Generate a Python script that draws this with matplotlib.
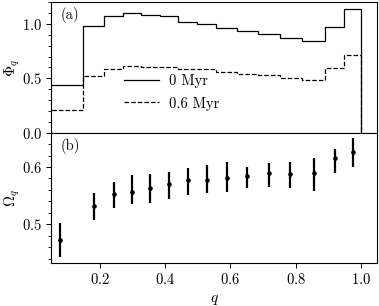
import numpy as np
import matplotlib
matplotlib.use("Agg")
import matplotlib.pyplot as plt
from matplotlib.ticker import MultipleLocator

plt.rcParams['font.family'] = 'serif'
plt.rcParams['font.serif'] = ['cmr10']
plt.rcParams['mathtext.fontset'] = 'cm'
plt.rcParams['axes.formatter.use_mathtext'] = True
plt.rcParams['font.size'] = 10.5

# panel (a): binned distribution
edges = [0.0, 0.148, 0.212, 0.270, 0.325, 0.383, 0.439, 0.498, 0.557,
         0.619, 0.684, 0.751, 0.820, 0.889, 0.949, 1.0]
phi_0 = [0.442, 0.984, 1.073, 1.097, 1.079, 1.070, 1.015, 1.000, 0.960,
         0.932, 0.905, 0.868, 0.841, 0.969, 1.137]
phi_06 = [0.207, 0.521, 0.582, 0.612, 0.603, 0.603, 0.589, 0.582, 0.561,
          0.540, 0.526, 0.506, 0.488, 0.596, 0.713]
labels = ['0 Myr', '0.6 Myr']

# panel (b): ratio with error bars
q_pts = [0.077, 0.180, 0.242, 0.298, 0.354, 0.410, 0.469, 0.527, 0.588,
         0.651, 0.718, 0.784, 0.855, 0.922, 0.977]
omega = [0.473, 0.532, 0.553, 0.556, 0.564, 0.570, 0.578, 0.577, 0.581,
         0.584, 0.589, 0.587, 0.590, 0.615, 0.627]
omega_lo = [0.442, 0.507, 0.528, 0.536, 0.537, 0.544, 0.551, 0.554, 0.556,
            0.564, 0.565, 0.564, 0.558, 0.589, 0.600]
omega_hi = [0.503, 0.554, 0.573, 0.586, 0.587, 0.592, 0.598, 0.603, 0.609,
            0.600, 0.607, 0.609, 0.616, 0.631, 0.650]

fig, (ax1, ax2) = plt.subplots(2, 1, sharex=True, figsize=(3.79, 3.06), dpi=100)
fig.subplots_adjust(left=0.135, right=0.995, top=0.993, bottom=0.14, hspace=0)

ax1.stairs(phi_0, edges, baseline=0, color='k', lw=0.9, ls='-', label=labels[0])
ax1.stairs(phi_06, edges, baseline=0, color='k', lw=0.9, ls='--', label=labels[1])
ax1.set_ylim(0, 1.2)
ax1.yaxis.set_major_locator(MultipleLocator(0.5))
ax1.yaxis.set_minor_locator(MultipleLocator(0.1))
ax1.set_ylabel(r'$\Phi_q$', fontsize=11)
ax1.tick_params(axis='x', which='both', bottom=False)
ax1.text(0.03, 0.905, '(a)', transform=ax1.transAxes, va='center', ha='left')
ax1.legend(loc='center', bbox_to_anchor=(0.37, 0.31), frameon=False,
           handlelength=2.4, handletextpad=0.7, labelspacing=0.6)

om = np.array(omega)
yerr = [om - np.array(omega_lo), np.array(omega_hi) - om]
ax2.errorbar(q_pts, om, yerr=yerr, fmt='o', color='k', ms=2.3, elinewidth=1.6, capsize=0)
ax2.set_ylim(0.432, 0.66)
ax2.yaxis.set_major_locator(MultipleLocator(0.1))
ax2.yaxis.set_minor_locator(MultipleLocator(0.02))
ax2.set_xlim(0.05, 1.05)
ax2.xaxis.set_major_locator(MultipleLocator(0.2))
ax2.set_ylabel(r'$\Omega_q$', fontsize=11)
ax2.set_xlabel(r'$q$', fontsize=11)
ax2.text(0.03, 0.898, '(b)', transform=ax2.transAxes, va='center', ha='left')

for ax in (ax1, ax2):
    ax.tick_params(which='major', length=3.5, width=0.7, direction='out', pad=3)
    ax.tick_params(which='minor', length=2, width=0.6, direction='out')
    ax.yaxis.set_label_coords(-0.09, 0.5)

fig.savefig('out.png', dpi=100)
